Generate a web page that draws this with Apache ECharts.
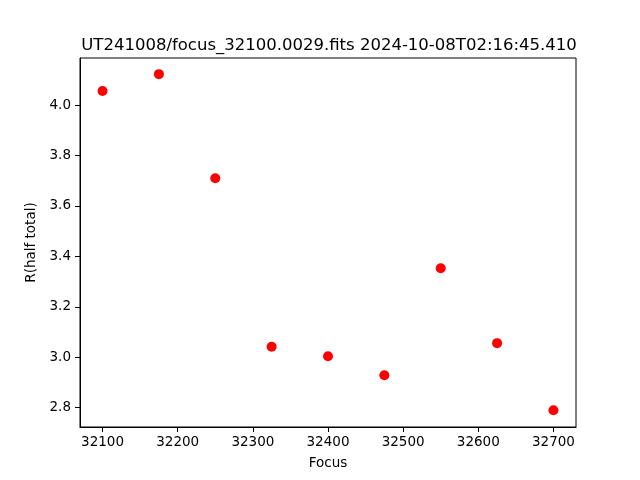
<!DOCTYPE html>
<html><head><meta charset="utf-8">
<script src="https://cdn.jsdelivr.net/npm/echarts@6/dist/echarts.min.js"></script>
<style>html,body{margin:0;padding:0;background:#fff}#c{width:640px;height:480px}</style>
</head><body><div id="c"></div>
<script>
const focus = [32100, 32175, 32250, 32325, 32400, 32475, 32550, 32625, 32700];
const rHalf = [4.056, 4.123, 3.710, 3.042, 3.004, 2.929, 3.353, 3.056, 2.790];
const xTicks = [32100, 32200, 32300, 32400, 32500, 32600, 32700];
const yTicks = [2.8, 3.0, 3.2, 3.4, 3.6, 3.8, 4.0];
const titleText = 'UT241008/focus_32100.0029.fits 2024-10-08T02:16:45.410';

const font = 'DejaVu Sans';
const chart = echarts.init(document.getElementById('c'), null, {renderer: 'canvas'});
chart.setOption({
  animation: false,
  backgroundColor: '#fff',
  title: {
    text: titleText, left: 324, top: 32, textAlign: 'center',
    textStyle: {fontFamily: font, fontSize: 16.5, fontWeight: 'normal', color: '#000'}
  },
  grid: {left: 80, right: 64, top: 58, bottom: 53, show: true, borderColor: '#000', borderWidth: 1, backgroundColor: 'transparent'},
  xAxis: {
    type: 'value', min: 32070, max: 32730,
    name: 'Focus', nameLocation: 'middle', nameGap: 29,
    nameTextStyle: {fontFamily: font, fontSize: 13.5, color: '#000'},
    axisLine: {show: true, lineStyle: {color: '#000', width: 1}},
    axisTick: {show: true, inside: false, length: 5, lineStyle: {color: '#000'}, customValues: xTicks},
    axisLabel: {fontFamily: font, fontSize: 13.5, color: '#000', margin: 8, customValues: xTicks, formatter: v => String(v)},
    splitLine: {show: false}
  },
  yAxis: {
    type: 'value', min: 2.7234, max: 4.187,
    name: 'R(half total)', nameLocation: 'middle', nameGap: 35,
    nameTextStyle: {fontFamily: font, fontSize: 13.5, color: '#000'},
    axisLine: {show: true, lineStyle: {color: '#000', width: 1}},
    axisTick: {show: true, inside: false, length: 5, lineStyle: {color: '#000'}, customValues: yTicks},
    axisLabel: {fontFamily: font, fontSize: 13.5, color: '#000', margin: 9, customValues: yTicks, formatter: v => v.toFixed(1)},
    splitLine: {show: false}
  },
  series: [{
    type: 'scatter',
    data: focus.map((f, i) => [f, rHalf[i]]),
    symbol: 'circle', symbolSize: 10,
    itemStyle: {color: '#ff0000', opacity: 1},
    emphasis: {disabled: true}
  }]
});
</script></body></html>
